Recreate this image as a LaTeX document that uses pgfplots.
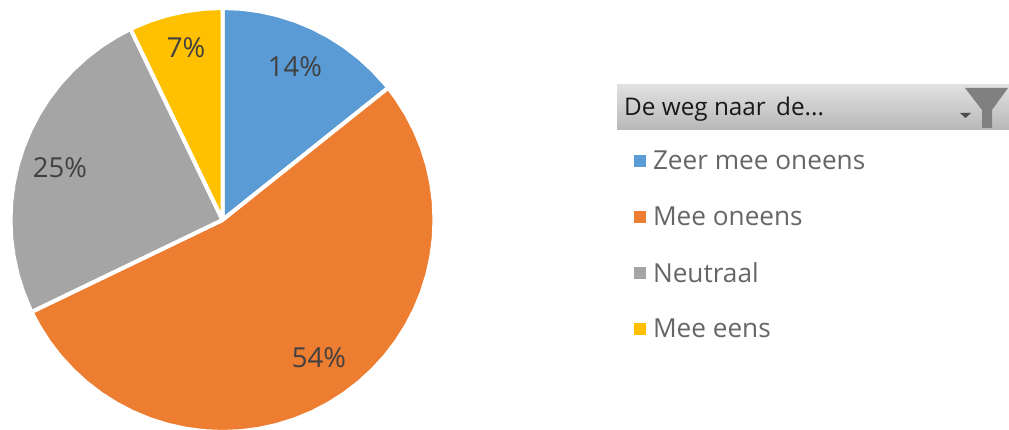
\documentclass[border=0pt]{standalone}
\usepackage{fontspec}
\setmainfont{Open Sans}
\usepackage{pgfplots}
\pgfplotsset{compat=1.18}

\definecolor{pieblue}{HTML}{5B9BD5}
\definecolor{pieorange}{HTML}{ED7D31}
\definecolor{piegray}{HTML}{A5A5A5}
\definecolor{pieyellow}{HTML}{FFC000}
\definecolor{labeltext}{HTML}{404040}
\definecolor{legendtext}{HTML}{666666}

\begin{document}
\begin{tikzpicture}
% one axis unit = one reference pixel, pie centre at the origin
\begin{axis}[
    scale only axis,
    width=1009pt,
    height=430pt,
    xmin=-222.5, xmax=786.5,
    ymin=-210, ymax=220,
    hide axis,
    legend cell align=left,
    legend style={
        at={(axis cs:409.5,71)}, anchor=north west,
        draw=none, fill=none, inner sep=0pt, outer sep=0pt,
        row sep=31.5pt,
        font=\fontsize{26.2}{30}\selectfont\color{legendtext},
    },
    legend image code/.code={
        \fill[#1, draw=none] (0pt,-6pt) rectangle (12pt,6pt);
        \path (0pt,0pt) (15pt,0pt);
    },
]
\path (axis cs:-222.5,-210) (axis cs:786.5,220);

% 4/28 = 14%
\addplot[draw=white, line width=4pt, line join=round, fill=pieblue, data cs=polar] coordinates {
    (0,0) (90,212) (85,212) (80,212) (75,212) (70,212) (65,212) (60,212)
    (55,212) (50,212) (45,212) (40,212) (38.57,212)
} -- cycle;
\addlegendentry{Zeer mee oneens}

% 15/28 = 54%
\addplot[draw=white, line width=4pt, line join=round, fill=pieorange, data cs=polar] coordinates {
    (0,0) (38.57,212) (35,212) (30,212) (25,212) (20,212) (15,212) (10,212) (5,212)
    (0,212) (-5,212) (-10,212) (-15,212) (-20,212) (-25,212) (-30,212) (-35,212)
    (-40,212) (-45,212) (-50,212) (-55,212) (-60,212) (-65,212) (-70,212) (-75,212)
    (-80,212) (-85,212) (-90,212) (-95,212) (-100,212) (-105,212) (-110,212)
    (-115,212) (-120,212) (-125,212) (-130,212) (-135,212) (-140,212) (-145,212)
    (-150,212) (-154.29,212)
} -- cycle;
\addlegendentry{Mee oneens}

% 7/28 = 25%
\addplot[draw=white, line width=4pt, line join=round, fill=piegray, data cs=polar] coordinates {
    (0,0) (-154.29,212) (-155,212) (-160,212) (-165,212) (-170,212) (-175,212)
    (-180,212) (-185,212) (-190,212) (-195,212) (-200,212) (-205,212) (-210,212)
    (-215,212) (-220,212) (-225,212) (-230,212) (-235,212) (-240,212) (-244.29,212)
} -- cycle;
\addlegendentry{Neutraal}

% 2/28 = 7%
\addplot[draw=white, line width=4pt, line join=round, fill=pieyellow, data cs=polar] coordinates {
    (0,0) (-244.29,212) (-245,212) (-250,212) (-255,212) (-260,212) (-265,212) (-270,212)
} -- cycle;
\addlegendentry{Mee eens}

% percentage labels
\addplot[
    forget plot, only marks, mark=none,
    point meta=explicit symbolic,
    nodes near coords,
    nodes near coords align={anchor=center},
    every node near coord/.append style={
        font=\fontsize{27.5}{32}\selectfont, text=labeltext, inner sep=0pt},
] table[meta=lab, col sep=space] {
x y lab
72.5 153 14\%
96.5 -138 54\%
-162.5 52 25\%
-36.5 172 7\%
};

% slicer header with filter icon
\shade[top color=black!12, bottom color=black!28] (axis cs:394.5,135) rectangle (axis cs:786.5,90);
\fill[black!50] (axis cs:742.5,132) -- (axis cs:785.5,132) -- (axis cs:769.5,110) -- (axis cs:769.5,92)
    -- (axis cs:759.5,92) -- (axis cs:759.5,110) -- cycle;
\fill[black!70] (axis cs:737.5,107) -- (axis cs:748.5,107) -- (axis cs:743,102) -- cycle;
\node[anchor=west, inner sep=0pt, text=black!90, font=\fontsize{24.3}{28}\selectfont]
    at (axis cs:401.5,111) {De weg naar\hspace{4pt} de...};
\end{axis}
\end{tikzpicture}
\end{document}
